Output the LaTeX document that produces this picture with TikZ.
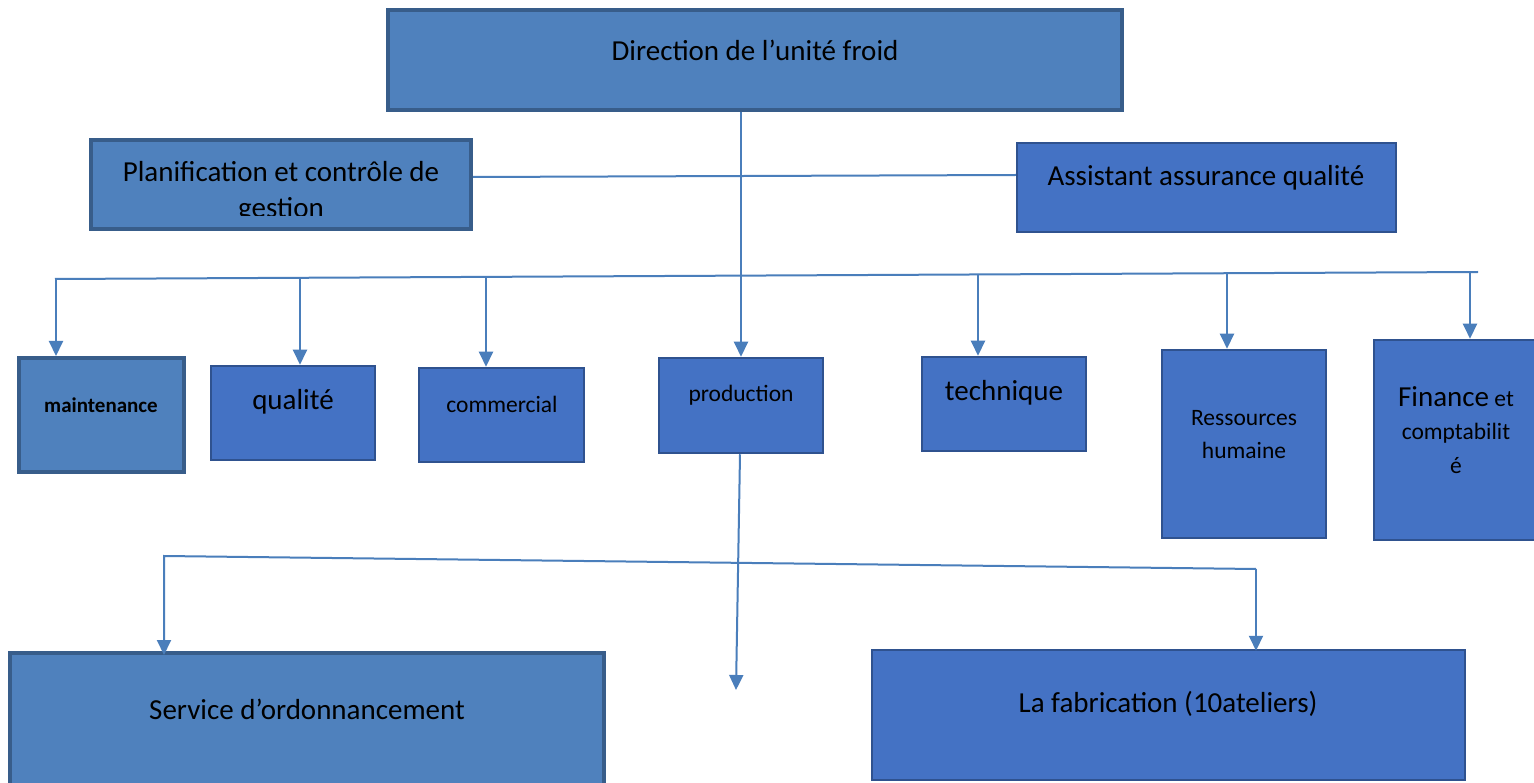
\documentclass[tikz,border=0pt]{standalone}
\usepackage{fontspec}
\setmainfont{Carlito}
\usetikzlibrary{arrows.meta}
\definecolor{fillA}{HTML}{4F81BD}
\definecolor{fillB}{HTML}{4472C4}
\definecolor{edgeA}{HTML}{385D8A}
\definecolor{edgeB}{HTML}{2F528F}
\definecolor{lineC}{HTML}{4A7EBB}
\tikzset{
  boxA/.style={draw=edgeA, fill=fillA, line width=4pt, inner sep=0pt},
  boxB/.style={draw=edgeB, fill=fillB, line width=2.5pt, inner sep=0pt},
  conn/.style={draw=lineC, line width=2pt},
  arr/.style={conn, -{Triangle[width=14pt,length=15pt]}},
  big/.style={font=\fontsize{29}{36}\selectfont, text=black, align=center, inner sep=0pt},
  mid/.style={font=\fontsize{23.5}{32}\selectfont, text=black, align=center, inner sep=0pt},
  small/.style={font=\fontsize{21}{24}\selectfont\bfseries, text=black, align=center, inner sep=0pt},
}
\begin{document}
\begin{tikzpicture}[x=1pt,y=-1pt]
\clip (0,0) rectangle (1534,783);
\fill[white] (0,0) rectangle (1534,783);
% boxes
\node[boxA, minimum width=734pt, minimum height=100pt] (dir) at (755,60) {};
\node[boxA, minimum width=380pt, minimum height=89pt] (plan) at (281,184.5) {};
\node[boxB, minimum width=379pt, minimum height=89pt] (assist) at (1206.5,187.5) {};
\node[boxA, minimum width=165pt, minimum height=114pt] (maint) at (101.5,415) {};
\node[boxB, minimum width=164pt, minimum height=94pt] (qual) at (293,413) {};
\node[boxB, minimum width=165pt, minimum height=94pt] (comm) at (501.5,415) {};
\node[boxB, minimum width=164pt, minimum height=95pt] (prod) at (741,405.5) {};
\node[boxB, minimum width=164pt, minimum height=94pt] (tech) at (1004,404) {};
\node[boxB, minimum width=164pt, minimum height=188pt] (rh) at (1244,444) {};
\node[boxB, minimum width=164pt, minimum height=200pt] (fin) at (1456,440) {};
\node[boxA, minimum width=594pt, minimum height=147pt] (serv) at (307,726.5) {};
\node[boxB, minimum width=593pt, minimum height=130pt] (fab) at (1168.5,715) {};
% texts
\node[big] (dirT) at (755,50) {Direction de l’unité froid};
\begin{scope}
\clip (91,140) rectangle (471,215.5);
\node[big] (planT1) at (281,172) {Planification et contrôle de};
\node[big, anchor=base] (planT2) at (281,218) {gestion};
\end{scope}
\node[big] (assistT) at (1206,178) {Assistant assurance qualité};
\node[small] (maintT) at (101,405) {maintenance};
\node[big] (qualT) at (293,402) {qualité};
\node[mid] (commT) at (502,404) {commercial};
\node[mid] (prodT) at (741,395) {production};
\node[big] (techT) at (1004,393) {technique};
\node[mid] (rhT1) at (1244,418) {Ressources};
\node[mid] (rhT2) at (1244,450) {humaine};
\node[mid] (finT1) at (1456,397) {{\fontsize{29}{36}\selectfont Finance} et};
\node[mid] (finT2) at (1456,433) {comptabilit};
\node[mid] (finT3) at (1456,466) {é};
\node[big] (servT) at (307,709) {Service d’ordonnancement};
\node[big] (fabT) at (1168,704) {La fabrication (10ateliers)};
% connector coordinates
\coordinate (planR) at (471,177);
\coordinate (assistL) at (1017,175);
\coordinate (busL) at (55,279);
\coordinate (busR) at (1478,272);
\coordinate (bMaint) at (56,280);
\coordinate (bQual) at (300,278);
\coordinate (bComm) at (486,277);
\coordinate (bTech) at (978,274.5);
\coordinate (bRh) at (1227,273.5);
\coordinate (bFin) at (1470,272.5);
\coordinate (prodEnd) at (736,690);
\coordinate (busL2) at (164,556);
\coordinate (busR2) at (1256,569);
% connectors
\draw[conn] (plan.east |- planR) -- (assist.west |- assistL);
\draw[conn] (busL) -- (busR);
\draw[arr] (prod.north |- dir.south) -- (prod.north);
\draw[arr] (bMaint) -- (bMaint |- maint.north);
\draw[arr] (bQual) -- (bQual |- qual.north);
\draw[arr] (bComm) -- (bComm |- comm.north);
\draw[arr] (bTech) -- (bTech |- tech.north);
\draw[arr] (bRh) -- (bRh |- rh.north);
\draw[arr] (bFin) -- (bFin |- fin.north);
\draw[arr] ([xshift=-1pt]prod.south) -- (prodEnd);
\draw[arr] (busR2) -- (busL2) -- ([yshift=-4pt]busL2 |- serv.north);
\draw[arr] (busR2) -- ([yshift=-2pt]busR2 |- fab.north);
\end{tikzpicture}
\end{document}
